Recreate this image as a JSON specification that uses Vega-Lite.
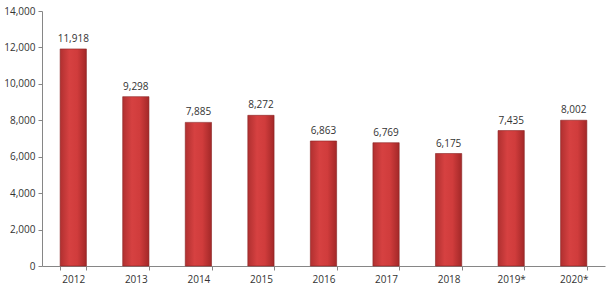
{
  "$schema": "https://vega.github.io/schema/vega-lite/v6.json",
  "width": 563,
  "height": 255,
  "autosize": "none",
  "padding": {"left": 42, "top": 11, "right": 5, "bottom": 24},
  "background": "white",
  "config": {"view": {"stroke": null}, "font": "Open Sans"},
  "data": {"values": [
    {"year": "2012", "value": 11918},
    {"year": "2013", "value": 9298},
    {"year": "2014", "value": 7885},
    {"year": "2015", "value": 8272},
    {"year": "2016", "value": 6863},
    {"year": "2017", "value": 6769},
    {"year": "2018", "value": 6175},
    {"year": "2019*", "value": 7435},
    {"year": "2020*", "value": 8002}
  ]},
  "encoding": {
    "x": {"field": "year", "type": "nominal", "sort": null,
      "scale": {"paddingInner": 0.58, "paddingOuter": 0.29},
      "axis": {"title": null, "labelAngle": 0, "labelFontSize": 10, "labelColor": "#333333", "domainColor": "#868686", "tickColor": "#868686", "tickBand": "extent", "tickSize": 4, "labelPadding": 4}},
    "y": {"field": "value", "type": "quantitative",
      "scale": {"domain": [0, 14000], "nice": false},
      "axis": {"title": null, "values": [0,2000,4000,6000,8000,10000,12000,14000], "labelExpr": "format(datum.value, ',')", "labelOverlap": false, "grid": false, "labelFontSize": 10, "labelColor": "#333333", "domainColor": "#868686", "tickColor": "#868686", "tickSize": 4, "labelPadding": 3}}
  },
  "layer": [
    {"mark": {"type": "bar", "stroke": "#8a2424", "strokeWidth": 0.6,
      "fill": {"x1": 0, "y1": 0, "x2": 1, "y2": 0, "gradient": "linear", "stops": [
        {"offset": 0, "color": "#b03030"},
        {"offset": 0.35, "color": "#d64141"},
        {"offset": 0.65, "color": "#d03c3c"},
        {"offset": 1, "color": "#a32828"}
      ]}}},
    {"mark": {"type": "text", "baseline": "bottom", "dy": -5, "fontSize": 10, "color": "#333333"},
      "encoding": {"text": {"field": "value", "type": "quantitative", "format": ","}}}
  ]
}
